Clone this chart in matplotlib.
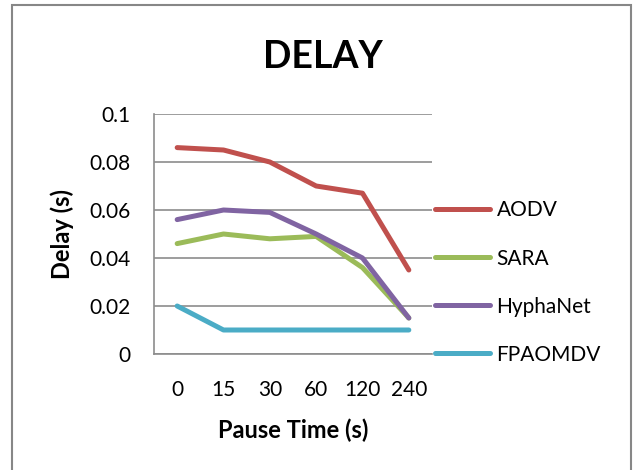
import matplotlib
matplotlib.use('Agg')
import matplotlib.pyplot as plt
from matplotlib.patches import Rectangle


pause_times = ['0', '15', '30', '60', '120', '240']
aodv = [0.086, 0.085, 0.080, 0.070, 0.067, 0.035]
sara = [0.046, 0.050, 0.048, 0.049, 0.036, 0.015]
hyphanet = [0.056, 0.060, 0.059, 0.050, 0.040, 0.015]
fpaomdv = [0.020, 0.010, 0.010, 0.010, 0.010, 0.010]

series = [('AODV', aodv, '#C0504D'),
          ('SARA', sara, '#9BBB59'),
          ('HyphaNet', hyphanet, '#8064A2'),
          ('FPAOMDV', fpaomdv, '#4BACC6')]

plt.rcParams['font.family'] = ['Lato', 'DejaVu Sans']

fig = plt.figure(figsize=(6.36, 4.70), dpi=100)
# chart border
fig.patches.append(Rectangle((12 / 636, -0.05), (631 - 12) / 636, 1.05 - 5 / 470,
                             transform=fig.transFigure, fill=False,
                             edgecolor='#878787', linewidth=1.5))

ax = fig.add_axes([154 / 636, 1 - 354 / 470, (432 - 154) / 636, (354 - 114) / 470])

x = range(len(pause_times))
for name, vals, col in series:
    ax.plot(x, vals, color=col, linewidth=3.6, solid_capstyle='round',
            solid_joinstyle='round', label=name)

ax.set_xlim(-0.5, len(pause_times) - 0.5)
ax.set_ylim(0, 0.1)
ax.set_yticks([0, 0.02, 0.04, 0.06, 0.08, 0.1])
ax.set_yticklabels(['0', '0.02', '0.04', '0.06', '0.08', '0.1'])
ax.set_xticks(list(x))
ax.set_xticklabels(pause_times)
ax.tick_params(axis='both', length=0, labelsize=15)
ax.tick_params(axis='y', pad=17)
ax.tick_params(axis='x', pad=19)

ax.grid(axis='y', color='#8C8C8C', linewidth=1.2)
ax.set_axisbelow(True)
for s in ['top', 'right']:
    ax.spines[s].set_visible(False)
for s in ['left', 'bottom']:
    ax.spines[s].set_color('#8C8C8C')
    ax.spines[s].set_linewidth(1.2)

ax.set_xlabel('Pause Time (s)', fontsize=17, fontweight='bold', labelpad=13)
ax.set_ylabel('Delay (s)', fontsize=17, fontweight='bold', labelpad=11)

fig.text(323 / 636, 1 - 57 / 470, 'DELAY', fontsize=27, fontweight='bold',
         ha='center', va='center')

ax.legend(loc='upper left', bbox_to_anchor=(1.011, 0.64), frameon=False,
          fontsize=15, handlelength=2.65, handletextpad=0.3, labelspacing=1.35,
          borderaxespad=0, borderpad=0)

fig.savefig('out.png', dpi=100)
